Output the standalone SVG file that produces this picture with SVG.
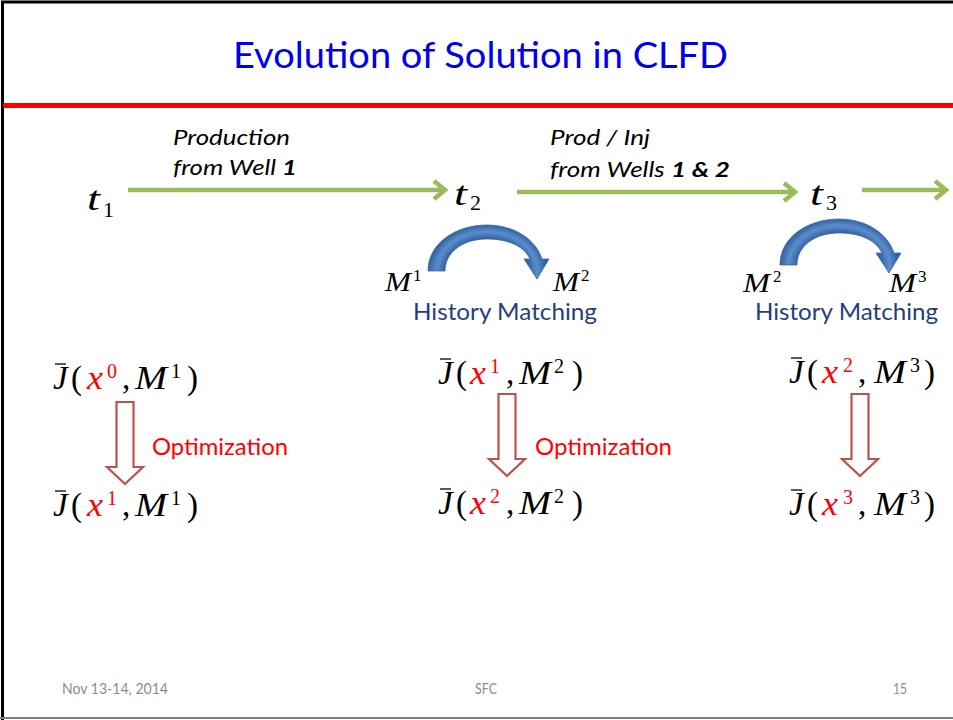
<svg xmlns="http://www.w3.org/2000/svg" xmlns:xlink="http://www.w3.org/1999/xlink" width="953" height="720" viewBox="0 0 953 720">
  <style>
    .title { font-family: Lato, "Liberation Sans", sans-serif; font-size: 37px; fill: #0000f0; }
    .note { font-family: Lato, "Liberation Sans", sans-serif; font-style: italic; font-size: 21px; fill: #000; }
    .note .b { font-weight: bold; }
    .hm { font-family: Lato, "Liberation Sans", sans-serif; font-size: 23px; fill: #1f3f7d; }
    .opt { font-family: Lato, "Liberation Sans", sans-serif; font-size: 23px; fill: #ff0000; }
    .foot { font-family: Lato, "Liberation Sans", sans-serif; font-size: 15px; fill: #8c8c8c; }
    .mi { font-family: "Liberation Serif", serif; font-style: italic; font-size: 33px; fill: #000; }
    .mu { font-family: "Liberation Serif", serif; font-size: 33px; fill: #000; }
    .sup { font-family: "Liberation Serif", serif; font-size: 20px; fill: #000; }
    .sub { font-family: "Liberation Serif", serif; font-size: 22px; fill: #000; }
    .ml { font-family: "Liberation Serif", serif; font-style: italic; font-size: 28px; fill: #000; }
    .msup { font-family: "Liberation Serif", serif; font-size: 17px; fill: #000; }
    .red { fill: #ff0000; }
    .bar { stroke: #000; stroke-width: 1.3; }
    .flow { stroke: #9bbb59; stroke-width: 4.5; fill: none; }
    .down { fill: #fff; stroke: #c0504d; stroke-width: 2.2; stroke-linejoin: miter; }
  </style>
  <defs>
    <marker id="greenHead" markerUnits="userSpaceOnUse" viewBox="-20 -15 30 30" markerWidth="30" markerHeight="30" refX="0" refY="0" orient="auto" overflow="visible">
      <path d="M-11,-9 L0,0 L-11,9" fill="none" stroke="#9bbb59" stroke-width="4.5"/>
    </marker>
    <radialGradient id="arcFill" gradientUnits="userSpaceOnUse" cx="487" cy="271" r="60" gradientTransform="translate(487 271) scale(1 0.78) translate(-487 -271)">
      <stop offset="0.68" stop-color="#2f5d9b"/>
      <stop offset="0.84" stop-color="#5b8dcd"/>
      <stop offset="1" stop-color="#2f5d9b"/>
    </radialGradient>
    <path id="arcArrow" d="M428,271 C428,243 456,225 487,225 C515,225 536,240 542,259 L549,259 L537,279 L524,259 L530,259 C524,246 508,239 487,239 C463,239 445,252 445,271 Z" fill="url(#arcFill)" stroke="#3a68a5" stroke-width="0.8"/>
    <path id="hollowDown" d="M-8.5,0 H8.5 V65 H18 L0,82 L-18,65 H-8.5 Z"/>
  </defs>

  <rect width="953" height="720" fill="#fff"/>

  <!-- slide frame -->
  <g id="frame">
    <path d="M2.5,720 V2 H953" fill="none" stroke="#000" stroke-width="3"/>
    <line x1="0" y1="718" x2="953" y2="718" stroke="#7f7f7f" stroke-width="2"/>
    <rect x="3" y="103" width="950" height="5" fill="#ff0000"/>
  </g>

  <g id="title">
    <text class="title" x="233" y="68" textLength="495" lengthAdjust="spacingAndGlyphs">Evolution of Solution in CLFD</text>
  </g>

  <!-- connectors -->
  <g id="connectors">
    <line class="flow" x1="128" y1="190" x2="445" y2="190" marker-end="url(#greenHead)"/>
    <line class="flow" x1="517" y1="192" x2="795" y2="192" marker-end="url(#greenHead)"/>
    <line class="flow" x1="862" y1="190" x2="946" y2="190" marker-end="url(#greenHead)"/>
    <use xlink:href="#arcArrow"/>
    <use xlink:href="#arcArrow" transform="translate(352,-6)"/>
    <use xlink:href="#hollowDown" class="down" transform="translate(125,402)"/>
    <use xlink:href="#hollowDown" class="down" transform="translate(507,394)"/>
    <use xlink:href="#hollowDown" class="down" transform="translate(860,394)"/>
  </g>

  <!-- time steps -->
  <g id="t1">
    <text class="mi" x="87" y="210" textLength="13" lengthAdjust="spacingAndGlyphs">t</text>
    <text class="sub" x="103" y="217">1</text>
  </g>
  <g id="t2">
    <text class="mi" x="454" y="205" textLength="13" lengthAdjust="spacingAndGlyphs">t</text>
    <text class="sub" x="470" y="210">2</text>
  </g>
  <g id="t3">
    <text class="mi" x="810" y="205" textLength="13" lengthAdjust="spacingAndGlyphs">t</text>
    <text class="sub" x="826" y="210">3</text>
  </g>

  <!-- interval labels -->
  <g id="label-production">
    <text class="note" x="173" y="145" textLength="117" lengthAdjust="spacingAndGlyphs">Production</text>
    <text class="note" x="173" y="175" textLength="124" lengthAdjust="spacingAndGlyphs">from Well <tspan class="b">1</tspan></text>
  </g>
  <g id="label-prodinj">
    <text class="note" x="550" y="145" textLength="100" lengthAdjust="spacingAndGlyphs">Prod / Inj</text>
    <text class="note" x="550" y="177" textLength="180" lengthAdjust="spacingAndGlyphs">from Wells <tspan class="b">1 &amp; 2</tspan></text>
  </g>

  <!-- history matching steps -->
  <g id="hm-1">
    <text class="ml" x="385" y="291" textLength="26" lengthAdjust="spacingAndGlyphs">M</text>
    <text class="msup" x="413" y="281">1</text>
    <text class="ml" x="553" y="291" textLength="26" lengthAdjust="spacingAndGlyphs">M</text>
    <text class="msup" x="581" y="281">2</text>
    <text class="hm" x="413" y="320" textLength="184" lengthAdjust="spacingAndGlyphs">History Matching</text>
  </g>
  <g id="hm-2">
    <text class="ml" x="743" y="292" textLength="27" lengthAdjust="spacingAndGlyphs">M</text>
    <text class="msup" x="773" y="282">2</text>
    <text class="ml" x="889" y="292" textLength="27" lengthAdjust="spacingAndGlyphs">M</text>
    <text class="msup" x="918" y="282">3</text>
    <text class="hm" x="755" y="320" textLength="183" lengthAdjust="spacingAndGlyphs">History Matching</text>
  </g>

  <!-- objective values: J-bar(x^k, M^k) -->
  <g id="j-x0-m1" transform="translate(52,389)">
    <text class="mi" x="1" y="0">J</text>
    <line class="bar" x1="3" y1="-25" x2="14" y2="-25"/>
    <text class="mu" x="19" y="0">(</text>
    <text class="mi red" x="35" y="0" textLength="16" lengthAdjust="spacingAndGlyphs">x</text>
    <text class="sup red" x="55" y="-11">0</text>
    <text class="mu" x="70" y="0">,</text>
    <text class="mi" x="83" y="0" textLength="32" lengthAdjust="spacingAndGlyphs">M</text>
    <text class="sup" x="119" y="-11">1</text>
    <text class="mu" x="135" y="0">)</text>
  </g>
  <g id="j-x1-m1" transform="translate(52,516)">
    <text class="mi" x="1" y="0">J</text>
    <line class="bar" x1="3" y1="-25" x2="14" y2="-25"/>
    <text class="mu" x="19" y="0">(</text>
    <text class="mi red" x="35" y="0" textLength="16" lengthAdjust="spacingAndGlyphs">x</text>
    <text class="sup red" x="55" y="-11">1</text>
    <text class="mu" x="70" y="0">,</text>
    <text class="mi" x="83" y="0" textLength="32" lengthAdjust="spacingAndGlyphs">M</text>
    <text class="sup" x="119" y="-11">1</text>
    <text class="mu" x="135" y="0">)</text>
  </g>
  <g id="j-x1-m2" transform="translate(437,384)">
    <text class="mi" x="1" y="0">J</text>
    <line class="bar" x1="3" y1="-25" x2="14" y2="-25"/>
    <text class="mu" x="19" y="0">(</text>
    <text class="mi red" x="33" y="0" textLength="16" lengthAdjust="spacingAndGlyphs">x</text>
    <text class="sup red" x="53" y="-11">1</text>
    <text class="mu" x="69" y="0">,</text>
    <text class="mi" x="82" y="0" textLength="32" lengthAdjust="spacingAndGlyphs">M</text>
    <text class="sup" x="117" y="-11">2</text>
    <text class="mu" x="135" y="0">)</text>
  </g>
  <g id="j-x2-m2" transform="translate(437,514)">
    <text class="mi" x="1" y="0">J</text>
    <line class="bar" x1="3" y1="-25" x2="14" y2="-25"/>
    <text class="mu" x="19" y="0">(</text>
    <text class="mi red" x="33" y="0" textLength="16" lengthAdjust="spacingAndGlyphs">x</text>
    <text class="sup red" x="53" y="-11">2</text>
    <text class="mu" x="69" y="0">,</text>
    <text class="mi" x="82" y="0" textLength="32" lengthAdjust="spacingAndGlyphs">M</text>
    <text class="sup" x="117" y="-11">2</text>
    <text class="mu" x="135" y="0">)</text>
  </g>
  <g id="j-x2-m3" transform="translate(788,383)">
    <text class="mi" x="1" y="0">J</text>
    <line class="bar" x1="3" y1="-25" x2="14" y2="-25"/>
    <text class="mu" x="19" y="0">(</text>
    <text class="mi red" x="34" y="0" textLength="16" lengthAdjust="spacingAndGlyphs">x</text>
    <text class="sup red" x="55" y="-11">2</text>
    <text class="mu" x="70" y="0">,</text>
    <text class="mi" x="86" y="0" textLength="32" lengthAdjust="spacingAndGlyphs">M</text>
    <text class="sup" x="122" y="-11">3</text>
    <text class="mu" x="136" y="0">)</text>
  </g>
  <g id="j-x3-m3" transform="translate(788,515)">
    <text class="mi" x="1" y="0">J</text>
    <line class="bar" x1="3" y1="-25" x2="14" y2="-25"/>
    <text class="mu" x="19" y="0">(</text>
    <text class="mi red" x="34" y="0" textLength="16" lengthAdjust="spacingAndGlyphs">x</text>
    <text class="sup red" x="55" y="-11">3</text>
    <text class="mu" x="70" y="0">,</text>
    <text class="mi" x="86" y="0" textLength="32" lengthAdjust="spacingAndGlyphs">M</text>
    <text class="sup" x="122" y="-11">3</text>
    <text class="mu" x="136" y="0">)</text>
  </g>

  <!-- optimization labels -->
  <g id="opt-1">
    <text class="opt" x="152" y="455" textLength="136" lengthAdjust="spacingAndGlyphs">Optimization</text>
  </g>
  <g id="opt-2">
    <text class="opt" x="535" y="455" textLength="137" lengthAdjust="spacingAndGlyphs">Optimization</text>
  </g>

  <!-- footer -->
  <g id="footer">
    <text class="foot" x="62" y="694" textLength="106" lengthAdjust="spacingAndGlyphs">Nov 13-14, 2014</text>
    <text class="foot" x="475" y="694" textLength="22" lengthAdjust="spacingAndGlyphs">SFC</text>
    <text class="foot" x="893" y="694" textLength="14" lengthAdjust="spacingAndGlyphs">15</text>
  </g>
</svg>
